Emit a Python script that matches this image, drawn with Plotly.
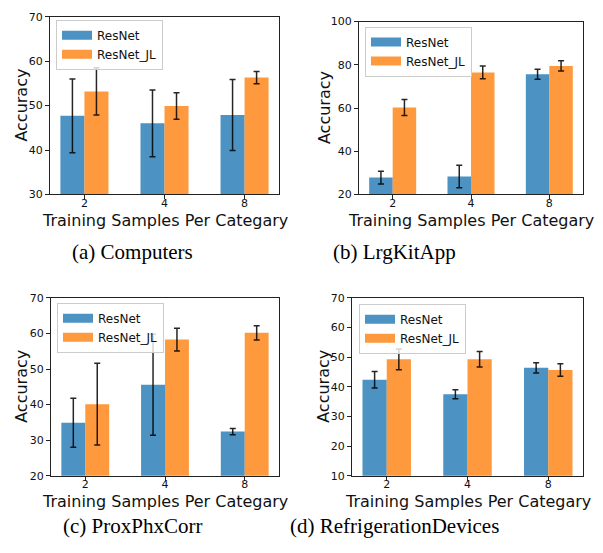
import plotly.graph_objects as go

# Few-shot accuracy, ResNet vs ResNet_JL, per dataset
samples = ["2", "4", "8"]
series_names = ["ResNet", "ResNet_JL"]

computers_resnet = [47.7, 46.0, 47.9]
computers_resnet_err = [8.3, 7.5, 8.0]
computers_jl = [53.2, 49.9, 56.3]
computers_jl_err = [5.3, 3.0, 1.4]

lrgkitapp_resnet = [27.8, 28.3, 75.6]
lrgkitapp_resnet_err = [3.0, 5.2, 2.3]
lrgkitapp_jl = [60.3, 76.5, 79.5]
lrgkitapp_jl_err = [3.7, 3.0, 2.4]

proxphx_resnet = [34.9, 45.6, 32.4]
proxphx_resnet_err = [6.9, 14.2, 0.9]
proxphx_jl = [40.1, 58.3, 60.2]
proxphx_jl_err = [11.5, 3.2, 2.0]

refrig_resnet = [42.4, 37.5, 46.4]
refrig_resnet_err = [2.8, 1.5, 1.7]
refrig_jl = [49.3, 49.3, 45.7]
refrig_jl_err = [3.5, 2.6, 2.1]

captions = ["(a) Computers", "(b) LrgKitApp", "(c) ProxPhxCorr", "(d) RefrigerationDevices"]
x_title = "Training Samples Per Categary"
y_title = "Accuracy"

panels = [
    dict(res=computers_resnet, res_err=computers_resnet_err, jl=computers_jl, jl_err=computers_jl_err,
         yrange=[30, 70], dtick=10),
    dict(res=lrgkitapp_resnet, res_err=lrgkitapp_resnet_err, jl=lrgkitapp_jl, jl_err=lrgkitapp_jl_err,
         yrange=[20, 100], dtick=20),
    dict(res=proxphx_resnet, res_err=proxphx_resnet_err, jl=proxphx_jl, jl_err=proxphx_jl_err,
         yrange=[20, 70], dtick=10),
    dict(res=refrig_resnet, res_err=refrig_resnet_err, jl=refrig_jl, jl_err=refrig_jl_err,
         yrange=[10, 70], dtick=10),
]

W, H = 603, 553
# plot-area pixel boxes: (left, right, top, bottom)
boxes = [(50, 279, 11, 193), (359, 583, 16, 193), (51, 279, 299, 481), (352, 583, 299, 481)]
legend_pos = [(56, 14), (365, 21), (57, 304), (359, 305)]
xtitle_y = [220, 220, 507, 507]
ytitle_x = [22, 324, 22, 324]
caption_pos = [(132, 252), (394, 252), (132, 533), (394, 533)]

BLUE = "rgba(31,119,180,0.8)"
ORANGE = "rgba(255,127,14,0.8)"
FONT = "DejaVu Sans"
TXT = "#111111"

fig = go.Figure()
xpos = list(range(len(samples)))

for i, p in enumerate(panels):
    n = "" if i == 0 else str(i + 1)
    xa, ya, lg = "x" + n, "y" + n, "legend" + n
    for name, vals, errs, col in [(series_names[0], p["res"], p["res_err"], BLUE),
                                  (series_names[1], p["jl"], p["jl_err"], ORANGE)]:
        fig.add_trace(go.Bar(
            x=xpos, y=vals, name=name, marker=dict(color=col, line=dict(width=0)),
            error_y=dict(type="data", array=errs, visible=True, color="rgba(0,0,0,0.85)",
                         thickness=1.5, width=3),
            xaxis=xa, yaxis=ya, showlegend=False))
        # legend swatch
        fig.add_trace(go.Scatter(
            x=[None], y=[None], mode="lines", name=name, line=dict(color=col, width=9),
            xaxis=xa, yaxis=ya, legend=lg, showlegend=True))

    l, r, t, b = boxes[i]
    axis_common = dict(showline=True, linecolor="#222", linewidth=1, mirror=True,
                       ticks="outside", ticklen=4, tickwidth=1, tickcolor="#222",
                       showgrid=False, zeroline=False,
                       tickfont=dict(family=FONT, size=11, color=TXT))
    fig.layout["xaxis" + n] = dict(
        domain=[l / W, r / W], anchor=ya, range=[-0.43, 2.43],
        tickvals=xpos, ticktext=samples, ticklabelstandoff=-6,
        **axis_common)
    fig.layout["yaxis" + n] = dict(
        domain=[1 - b / H, 1 - t / H], anchor=xa, range=p["yrange"], dtick=p["dtick"],
        tick0=0, **axis_common)

    # axis titles
    fig.add_annotation(text=x_title, x=(l + r) / 2 / W, y=1 - xtitle_y[i] / H,
                       xref="paper", yref="paper", showarrow=False,
                       xanchor="center", yanchor="middle", borderpad=0,
                       font=dict(family=FONT, size=16, color=TXT))
    fig.add_annotation(text=y_title, x=ytitle_x[i] / W, y=1 - (t + b) / 2 / H,
                       xref="paper", yref="paper", showarrow=False, textangle=-90,
                       xanchor="center", yanchor="middle", borderpad=0,
                       font=dict(family=FONT, size=16, color=TXT))

    lx, ly = legend_pos[i]
    fig.layout[lg] = dict(
        x=lx / W, y=1 - ly / H, xanchor="left", yanchor="top",
        bgcolor="rgba(255,255,255,0.8)", bordercolor="#cccccc", borderwidth=1,
        font=dict(family=FONT, size=12, color=TXT), tracegroupgap=0,
        itemwidth=30)
    cx, cy = caption_pos[i]
    fig.add_annotation(text=captions[i], x=cx / W, y=1 - cy / H, xref="paper", yref="paper",
                       showarrow=False, xanchor="center", yanchor="middle",
                       font=dict(family="Liberation Serif", size=21, color="#000"))

fig.update_layout(width=W, height=H, margin=dict(l=0, r=0, t=0, b=0),
                  barmode="group", bargap=0.4, bargroupgap=0,
                  plot_bgcolor="white", paper_bgcolor="white")

fig.write_html("out.html")
